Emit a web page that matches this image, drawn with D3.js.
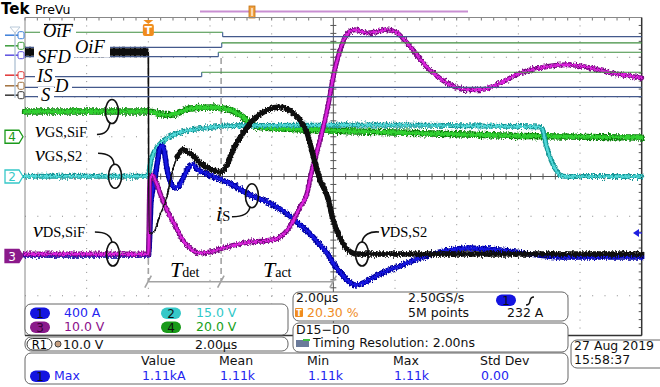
<!DOCTYPE html>
<html>
<head>
<meta charset="utf-8">
<script src="https://cdn.jsdelivr.net/npm/d3@7"></script>
<style>
  body { margin: 0; background: #fff; }
  svg { display: block; }
  text { font-family: "DejaVu Sans", sans-serif; }
  .serif { font-family: "Liberation Serif", "DejaVu Serif", serif; }
</style>
</head>
<body>
<div id="scope"></div>
<script>
// time base 2.00 µs/div, trigger at 20 % of the screen
const timeRange = [-4, 16];
const divRange = [-4, 4];

// analog channels: ch1 i_S, ch2 vGS,S2, ch3 vDS,SiF, ch4 vGS,SiF, R1 vDS,S2
const chNames = ["1", "2", "3", "4", "R1"];
const chScale = [400, 15, 10, 20, 10];      // per div
const chOffset = [-2, 0, -2, 1, -2];        // ground position, div

// ch4  vGS,SiF  (V)
const ch4T = [-4, 0, 0.12, 0.38, 0.7, 1.03, 1.35, 2.1, 2.65, 3.07, 3.3, 3.56, 4.27, 4.92, 8.16, 11.41, 16];
const ch4V = [12.7, 12.7, 12.45, 11.4, 10.9, 12.4, 14.2, 14.7, 13.5, 9.9, 6.9, 4.9, 4.15, 3.65, 2.1, 0.6, -0.4];

// ch2  vGS,S2  (V)
const ch2T = [-4, 0, 0.05, 0.12, 0.25, 0.38, 0.57, 0.86, 1.35, 2.0, 2.97, 6.54, 12.7, 12.77, 12.9, 13.06, 13.22, 13.35, 13.55, 16];
const ch2V = [0.1, 0.1, 3.96, 7.36, 10.4, 12.3, 14.2, 16.0, 17.5, 18.5, 19.2, 19.4, 18.7, 18.2, 11.9, 6.2, 2.5, 0.57, 0, 0];

// ch1  i_S  (A)
const ch1T = [-4, 0, 0.02, 0.09, 0.18, 0.28, 0.38, 0.44, 0.51, 0.6, 0.73, 0.86, 0.99, 1.16, 1.32, 1.45, 1.61, 1.84, 2.1, 2.39, 2.81, 3.3, 3.78, 4.27, 4.6, 4.92, 5.25, 5.57, 5.8, 5.99, 6.22, 6.48, 6.74, 7.03, 7.51, 8.16, 8.81, 9.46, 10.43, 11.41, 12.38, 13.35, 16];
const ch1A = [10, 10, 60, 563, 714, 915, 1086, 1110, 1066, 885, 734, 684, 704, 805, 895, 915, 865, 835, 795, 765, 704, 614, 553, 473, 402, 312, 221, 111, 30, -70, -161, -252, -292, -262, -181, -101, -20, 40, 80, 60, 20, -10, -10];

// ch3  vDS,SiF  (V)
const ch3T = [-4, 0, 0.05, 0.12, 0.25, 0.38, 0.6, 0.86, 1.12, 1.35, 1.68, 2.0, 2.33, 2.81, 3.3, 3.78, 4.2, 4.6, 4.92, 5.15, 5.25, 5.57, 5.8, 5.99, 6.22, 6.44, 6.7, 7.09, 7.42, 7.74, 8.07, 8.39, 9.04, 9.69, 10.34, 10.76, 11.41, 12.05, 12.7, 13.58, 14.23, 14.87, 16];
const ch3V = [0.5, 0.5, 19.1, 20.4, 18.6, 15.8, 11.6, 7.8, 4.0, 2.0, 0.75, 1.0, 1.8, 2.8, 3.5, 3.8, 4.5, 7.5, 12.3, 15.8, 19.6, 29.2, 36.7, 44.8, 51.8, 55.8, 56.9, 56.1, 56.4, 56.9, 56.1, 53.6, 47.5, 43.5, 41.8, 41.8, 43.5, 46.0, 47.3, 48.1, 47.5, 46.3, 44.8];

// R1  vDS,S2  (V)
const r1T = [-4, 0, 0.02, 0.15, 0.38, 0.6, 0.77, 0.93, 1.12, 1.35, 1.68, 2.0, 2.33, 2.55, 2.75, 3.07, 3.4, 3.85, 4.27, 4.69, 4.92, 5.15, 5.34, 5.57, 5.8, 5.99, 6.22, 6.44, 6.77, 16];
const r1V = [51.3, 51.3, 5.8, 5.8, 10.3, 14.8, 21.1, 24.9, 26.7, 25.9, 23.4, 21.9, 21.1, 22.9, 26.7, 30.9, 34.2, 36.7, 37.5, 36.0, 34.2, 30.9, 25.4, 19.1, 15.1, 9.1, 4.5, 1.8, 0.5, 0.5];

// digital channels
const digLabels = ["OiF", "OiF", "SFD", "IS", "D", "S"];
const digLow = [3.517, 3.25, 3.014, 2.511, 2.244, 2.008];   // div
const digStart = [1, 0, 0, 0, 0, 0];
const digEdge = [2.41, 2.38, 2.27, 1.73, null, null];     // µs
const digMarkColor = ["#3d7fd9", "#3a9a3a", "#5b4fe0", "#e03434", "#a0703c", "#333"];

// T_det / T_act boundaries (µs)
const phaseT = [0, 2.36, 6.0];
const phaseNames = ["det", "act"];

// trigger
const trigLevel = 232;   // A on ch1

const W = 660, H = 387;
const svg = d3.select("#scope").append("svg").attr("width", W).attr("height", H);

const x = d3.scaleLinear().domain(timeRange).range([25, 641.7]);
const xDiv = d3.scaleLinear().domain([0, 10]).range([25, 641.7]);
const yDiv = d3.scaleLinear().domain(divRange).range([335.5, 17.5]);
const chY = i => v => yDiv(v / chScale[i] + chOffset[i]);

// vertical jitter so traces look like acquired data
const defs = svg.append("defs");
const f = defs.append("filter").attr("id", "noise").attr("filterUnits", "userSpaceOnUse")
  .attr("x", 0).attr("y", 0).attr("width", W).attr("height", H)
  .attr("color-interpolation-filters", "sRGB");
f.append("feTurbulence").attr("type", "fractalNoise").attr("baseFrequency", "0.8 0.4")
  .attr("numOctaves", 2).attr("seed", 4).attr("result", "t");
f.append("feColorMatrix").attr("in", "t").attr("type", "matrix")
  .attr("values", "0 0 0 0 0.5  0 1 0 0 0  0 0 1 0 0  0 0 0 0 1").attr("result", "m");
f.append("feDisplacementMap").attr("in", "SourceGraphic").attr("in2", "m")
  .attr("scale", 6).attr("xChannelSelector", "R").attr("yChannelSelector", "G");

// ---------- header ----------
svg.append("text").attr("x", 1).attr("y", 14).attr("font-size", 15).attr("font-weight", "bold")
  .attr("font-family", "Liberation Sans, Arial, sans-serif").text("Tek");
svg.append("text").attr("x", 35).attr("y", 14).attr("font-size", 12.5).text("PreVu");
svg.append("line").attr("x1", 200).attr("x2", 468).attr("y1", 11.5).attr("y2", 11.5)
  .attr("stroke", "#c98fd2").attr("stroke-width", 2);
svg.append("rect").attr("x", 249).attr("y", 6).attr("width", 6).attr("height", 12)
  .attr("fill", "#f0a040").attr("stroke", "#c07010").attr("stroke-width", 0.8);
svg.append("line").attr("x1", 252).attr("x2", 252).attr("y1", 8).attr("y2", 16)
  .attr("stroke", "#fff").attr("stroke-width", 1.2);

// ---------- graticule ----------
const g = svg.append("g");
d3.range(1, 10).filter(i => i !== 5).forEach(i => {
  g.append("line").attr("x1", xDiv(i)).attr("x2", xDiv(i)).attr("y1", yDiv(4)).attr("y2", yDiv(-4))
    .attr("stroke", "#8a8a8a").attr("stroke-dasharray", "1 6.95");
});
d3.range(-3, 4).filter(i => i !== 0).forEach(i => {
  g.append("line").attr("x1", xDiv(0)).attr("x2", xDiv(10)).attr("y1", yDiv(i)).attr("y2", yDiv(i))
    .attr("stroke", "#8a8a8a").attr("stroke-dasharray", "1 11.33");
});
// center cross with minor ticks
g.append("line").attr("x1", xDiv(0)).attr("x2", xDiv(10)).attr("y1", yDiv(0)).attr("y2", yDiv(0))
  .attr("stroke", "#555");
g.append("line").attr("x1", xDiv(5)).attr("x2", xDiv(5)).attr("y1", yDiv(4)).attr("y2", yDiv(-4))
  .attr("stroke", "#555");
d3.range(0, 50).forEach(k => {
  const xx = xDiv(k / 5);
  g.append("line").attr("x1", xx).attr("x2", xx).attr("y1", yDiv(0) - 3).attr("y2", yDiv(0) + 3).attr("stroke", "#555");
  g.append("line").attr("x1", xx).attr("x2", xx).attr("y1", yDiv(4)).attr("y2", yDiv(4) + 3).attr("stroke", "#777");
});
d3.range(-20, 20).forEach(k => {
  const yy = yDiv(k / 5);
  g.append("line").attr("y1", yy).attr("y2", yy).attr("x1", xDiv(5) - 3).attr("x2", xDiv(5) + 3).attr("stroke", "#555");
  g.append("line").attr("y1", yy).attr("y2", yy).attr("x1", xDiv(10) - 3).attr("x2", xDiv(10)).attr("stroke", "#555");
});
g.append("line").attr("x1", xDiv(0)).attr("x2", xDiv(10)).attr("y1", yDiv(4)).attr("y2", yDiv(4)).attr("stroke", "#888");
g.append("line").attr("x1", xDiv(0)).attr("x2", xDiv(0)).attr("y1", yDiv(4)).attr("y2", yDiv(-4)).attr("stroke", "#888");
g.append("line").attr("x1", xDiv(10)).attr("x2", xDiv(10)).attr("y1", yDiv(4)).attr("y2", yDiv(-4)).attr("stroke", "#333").attr("stroke-width", 1.5);
g.append("line").attr("x1", xDiv(0)).attr("x2", xDiv(10)).attr("y1", yDiv(-4)).attr("y2", yDiv(-4)).attr("stroke", "#333").attr("stroke-width", 1.5);

// ---------- T_det / T_act markers ----------
const ph = svg.append("g").attr("stroke", "#a3a3a3").attr("stroke-width", 1.6).attr("fill", "none");
const arrowY = 281.7;
phaseT.forEach((t, i) => {
  if (i < 2) ph.append("line").attr("x1", x(t)).attr("x2", x(t)).attr("y1", 58).attr("y2", arrowY)
    .attr("stroke-dasharray", "6 4");
  ph.append("line").attr("x1", x(t) - 3.5).attr("x2", x(t) + 3).attr("y1", arrowY + 6).attr("y2", arrowY - 6);
});
ph.append("line").attr("x1", x(phaseT[0])).attr("x2", x(phaseT[2])).attr("y1", arrowY).attr("y2", arrowY);
phaseNames.forEach((n, i) => {
  const t = svg.append("text").attr("class", "serif").attr("x", x((phaseT[i] + phaseT[i + 1]) / 2))
    .attr("y", 277).attr("text-anchor", "middle");
  t.append("tspan").attr("font-style", "italic").attr("font-size", 22).text("T");
  t.append("tspan").attr("font-size", 14).text(n);
});

// ---------- traces ----------
// thin: number of leading points drawn as a thin fast edge
const traces = [
  {T: ch4T, V: ch4V, ch: 3, outer: "#0f7f0f", inner: "#30d030", w: 6.5, thin: 0},
  {T: ch2T, V: ch2V, ch: 1, outer: "#179696", inner: "#50d8d8", w: 5, thin: 0},
  {T: ch1T, V: ch1A, ch: 0, outer: "#0000a0", inner: "#1616e0", w: 5.5, thin: 0},
  {T: ch3T, V: ch3V, ch: 2, outer: "#7a0d84", inner: "#dc22dc", w: 5, thin: 0},
  {T: r1T, V: r1V, ch: 4, outer: "#0e0e0e", inner: "#1d1d1d", w: 5.5, thin: 7}
];
const tg = svg.append("g").attr("filter", "url(#noise)").attr("fill", "none")
  .attr("stroke-linejoin", "round").attr("stroke-linecap", "round");
const plain = svg.append("g").attr("fill", "none").attr("stroke-linecap", "butt");
traces.forEach(tr => {
  const pts = tr.T.map((t, i) => [t, tr.V[i]]);
  const line = d3.line().x(d => x(d[0])).y(d => chY(tr.ch)(d[1])).curve(d3.curveMonotoneX);
  if (tr.thin) {
    const head = pts.slice(0, 2), edge = pts.slice(1, tr.thin + 1), rest = pts.slice(tr.thin);
    plain.append("path").attr("d", line(head)).attr("stroke", tr.outer).attr("stroke-width", tr.w + 2);
    plain.append("path").attr("d", line(head)).attr("stroke", tr.outer).attr("stroke-width", tr.w + 5)
      .attr("stroke-dasharray", "1 3 2 4 1 2 3 5");
    tg.append("path").attr("d", line(edge)).attr("stroke", tr.outer).attr("stroke-width", 1.6);
    tg.append("path").attr("d", line(rest)).attr("stroke", tr.outer).attr("stroke-width", tr.w);
    return;
  }
  tg.append("path").attr("d", line(pts)).attr("stroke", tr.outer).attr("stroke-width", tr.w);
  tg.append("path").attr("d", line(pts)).attr("stroke", tr.inner).attr("stroke-width", tr.w - 2.6);
});

// ---------- digital channels ----------
const dg = svg.append("g").attr("fill", "none").attr("stroke-width", 1.2);
const digHigh = 0.112;
digLow.forEach((lo, i) => {
  const yl = yDiv(lo), yh = yDiv(lo + digHigh);
  const lvlY = s => s ? yh : yl;
  const col = s => s ? "#3f8e3f" : "#44598c";
  const e = digEdge[i] === null ? timeRange[1] : digEdge[i];
  const s0 = digStart[i];
  dg.append("line").attr("x1", x(timeRange[0])).attr("x2", x(e)).attr("y1", lvlY(s0)).attr("y2", lvlY(s0)).attr("stroke", col(s0));
  if (digEdge[i] !== null) {
    dg.append("line").attr("x1", x(e)).attr("x2", x(e)).attr("y1", yh).attr("y2", yl).attr("stroke", "#4a6a9a");
    dg.append("line").attr("x1", x(e)).attr("x2", x(timeRange[1])).attr("y1", lvlY(1 - s0)).attr("y2", lvlY(1 - s0)).attr("stroke", col(1 - s0));
  }
  // side marker
  const my = yl - 1.5;
  svg.append("line").attr("x1", 5).attr("x2", 19).attr("y1", my).attr("y2", my).attr("stroke", digMarkColor[i]).attr("stroke-width", 1.5);
  svg.append("rect").attr("x", 18).attr("y", my - 3.5).attr("width", 6).attr("height", 7).attr("rx", 1.5)
    .attr("fill", "#fff").attr("stroke", digMarkColor[i]).attr("stroke-width", 1);
});
svg.append("line").attr("x1", 15).attr("x2", 15).attr("y1", 31).attr("y2", yDiv(digLow[5]) + 1)
  .attr("stroke", "#b9c9d9").attr("stroke-width", 1.5);
svg.append("path").attr("d", "M10,27 L20,27 L15,33 Z").attr("fill", "#fff").attr("stroke", "#b9c9d9");

// digital labels (white backgrounds)
const digBoxes = [[40, 22, 36, 17], [72, 38, 38, 19], [34, 46, 40, 19], [35, 67, 20, 16], [55, 78, 17, 15], [38, 87, 16, 15]];
const digTextPos = [[43, 37], [75, 53], [37, 63], [37, 82], [55, 91.5], [41, 101]];
digLabels.forEach((lab, i) => {
  const b = digBoxes[i];
  svg.append("rect").attr("x", b[0]).attr("y", b[1]).attr("width", b[2]).attr("height", b[3]).attr("fill", "#fff");
  svg.append("text").attr("class", "serif").attr("x", digTextPos[i][0]).attr("y", digTextPos[i][1])
    .attr("font-style", "italic").attr("font-size", 18.5).text(lab);
});
svg.append("line").attr("x1", 44).attr("x2", 73).attr("y1", 24.5).attr("y2", 24.5).attr("stroke", "#111").attr("stroke-width", 1.2);

// ---------- analog channel markers ----------
const markCols = ["#1414e0", "#36c8c8", "#8b1a8b", "#1a9a1a"];
[3, 1, 2].forEach(i => {
  const my = yDiv(chOffset[i]);
  const filled = i === 2;
  svg.append("path").attr("d", `M5,${my - 6.5} h14 l4,6.5 l-4,6.5 h-14 z`)
    .attr("fill", filled ? markCols[i] : "#fff").attr("stroke", markCols[i]).attr("stroke-width", 1.3);
  svg.append("text").attr("x", 12).attr("y", my + 4.5).attr("text-anchor", "middle").attr("font-size", 12)
    .attr("fill", filled ? "#fff" : markCols[i]).text(chNames[i]);
});
// trigger level arrow (ch1)
const ty = chY(0)(trigLevel);
svg.append("path").attr("d", `M633,${ty} l6,-4 v8 z`).attr("fill", "#1e1ee0");
svg.append("line").attr("x1", 637).attr("x2", 642).attr("y1", ty).attr("y2", ty).attr("stroke", "#1e1ee0").attr("stroke-width", 1.3);
// trigger position marker
const tx = x(0);
svg.append("path").attr("d", `M${tx - 5},20 h10 l-5,4 z`).attr("fill", "#f08c1e");
svg.append("rect").attr("x", tx - 5.5).attr("y", 24).attr("width", 11).attr("height", 12).attr("rx", 2).attr("fill", "#f08c1e");
svg.append("text").attr("x", tx).attr("y", 34).attr("text-anchor", "middle").attr("font-size", 11)
  .attr("font-weight", "bold").attr("fill", "#fff").text("T");

// ---------- annotations ----------
const at = (T, V, t) => {
  const i = Math.max(1, Math.min(T.length - 1, d3.bisectRight(T, t)));
  const k = (t - T[i - 1]) / (T[i] - T[i - 1]);
  return V[i - 1] + k * (V[i] - V[i - 1]);
};
const notes = [
  {main: "v", sub: "GS,SiF", tx: 35, ty: 137, tr: 0, t: -1.18, lead: [[-15, 23], [-8, 23], [-3, 20], [-2, 11]]},
  {main: "v", sub: "GS,S2", tx: 35, ty: 161, tr: 1, t: -1.08, lead: [[-17, -23], [-9, -23], [-2, -21], [-1, -12]]},
  {main: "v", sub: "DS,SiF", tx: 33, ty: 237, tr: 3, t: -1.15, lead: [[-18, -22], [-9, -22], [-2, -19], [-1, -12]]},
  {main: "i", sub: "S", tx: 216, ty: 221, tr: 2, t: 3.36, lead: [[-20, 21], [-10, 21], [-3, 19], [-2, 11]]},
  {main: "v", sub: "DS,S2", tx: 380, ty: 237, tr: 4, t: 6.93, lead: [[17, -22], [8, -23], [1, -19], [0, -12]]}
];
notes.forEach(n => {
  const tr = traces[n.tr];
  const cx = x(n.t), cy = chY(tr.ch)(at(tr.T, tr.V, n.t));
  svg.append("ellipse").attr("cx", cx).attr("cy", cy).attr("rx", 6.5).attr("ry", 12)
    .attr("fill", "none").attr("stroke", "#111").attr("stroke-width", 1.6);
  const p = n.lead.map(d => [cx + d[0], cy + d[1]]);
  svg.append("path").attr("d", `M${p[0]} C${p[1]} ${p[2]} ${p[3]}`)
    .attr("fill", "none").attr("stroke", "#111").attr("stroke-width", 1.6);
  const t = svg.append("text").attr("class", "serif").attr("x", n.tx).attr("y", n.ty);
  t.append("tspan").attr("font-style", "italic").attr("font-size", 22).text(n.main);
  t.append("tspan").attr("font-size", 14.5).text(n.sub);
});

// ---------- bottom panels ----------
const panel = (x0, y0, w, h) => svg.append("rect").attr("x", x0).attr("y", y0).attr("width", w).attr("height", h)
  .attr("rx", 6).attr("fill", "#fff").attr("stroke", "#666").attr("stroke-width", 1);
const txt = (x0, y0, s, col, anchor) => svg.append("text").attr("x", x0).attr("y", y0).attr("font-size", 12.5)
  .attr("fill", col || "#111").attr("text-anchor", anchor || "start").text(s);
const pill = (x0, y0, s, col, tcol) => {
  svg.append("rect").attr("x", x0).attr("y", y0).attr("width", 20).attr("height", 11.5).attr("rx", 5.75).attr("fill", col);
  svg.append("text").attr("x", x0 + 10).attr("y", y0 + 10).attr("text-anchor", "middle").attr("font-size", 12)
    .attr("fill", tcol || "#111").text(s);
};

panel(25, 304, 263, 31);
const chLabels = ["400 A", "15.0 V", "10.0 V", "20.0 V"];
const chTextCols = ["#2424f0", "#30c8c8", "#8b108b", "#18a018"];
[[0, 30, 307.5, 64, 317], [1, 161, 307.5, 196, 317], [2, 30, 321.5, 64, 331], [3, 161, 321.5, 196, 331]].forEach(r => {
  pill(r[1], r[2], chNames[r[0]], markCols[r[0]], r[0] === 2 ? "#3a003a" : "#111");
  txt(r[3], r[4], chLabels[r[0]], chTextCols[r[0]]);
});

panel(25, 337, 263, 14);
svg.append("rect").attr("x", 27).attr("y", 338.5).attr("width", 25).attr("height", 11.5).attr("rx", 5.75)
  .attr("fill", "#fff").attr("stroke", "#333");
svg.append("text").attr("x", 39.5).attr("y", 348.5).attr("text-anchor", "middle").attr("font-size", 11.5).text("R1");
svg.append("circle").attr("cx", 58).attr("cy", 344).attr("r", 3).attr("fill", "#c8a080").attr("stroke", "#444");
txt(63, 348.5, "10.0 V");
txt(195, 348.5, "2.00µs");

panel(293, 292, 275, 29);
txt(296, 302, "2.00µs");
txt(408, 302, "2.50GS/s");
pill(496, 294.5, "1", "#1414e0");
svg.append("path").attr("d", "M526,305 Q529.5,305 530,301 Q530.5,297 534,297").attr("fill", "none")
  .attr("stroke", "#111").attr("stroke-width", 1.6);
svg.append("rect").attr("x", 295).attr("y", 308).attr("width", 8).attr("height", 9).attr("rx", 1).attr("fill", "#f08c1e");
svg.append("text").attr("x", 299).attr("y", 316).attr("text-anchor", "middle").attr("font-size", 8)
  .attr("font-weight", "bold").attr("fill", "#fff").text("T");
txt(307, 317, "20.30 %", "#f08c1e");
txt(408, 317, "5M points");
txt(507, 317, "232 A");

panel(293, 323, 275, 29);
txt(296, 334, "D15−D0");
svg.append("rect").attr("x", 296).attr("y", 340).attr("width", 13).attr("height", 7).attr("fill", "#6a7a9a");
svg.append("rect").attr("x", 303).attr("y", 339).attr("width", 7).attr("height", 2).attr("fill", "#40c040");
txt(313, 347, "Timing Resolution: 2.00ns");

panel(571, 340, 95, 28);
txt(574, 350, "27 Aug 2019");
txt(574, 364, "15:58:37");

panel(25, 353, 543, 31);
const measHead = ["Value", "Mean", "Min", "Max", "Std Dev"];
const measVals = ["1.11kA", "1.11k", "1.11k", "1.11k", "0.00"];
const measX = [141, 219, 307, 393, 480];
measHead.forEach((h, i) => {
  txt(measX[i], 365, h);
  txt(measX[i] + 1, 380, measVals[i], "#2424f0");
});
pill(30, 370.5, "1", "#1414e0");
txt(54, 380, "Max", "#2424f0");
</script>
</body>
</html>
